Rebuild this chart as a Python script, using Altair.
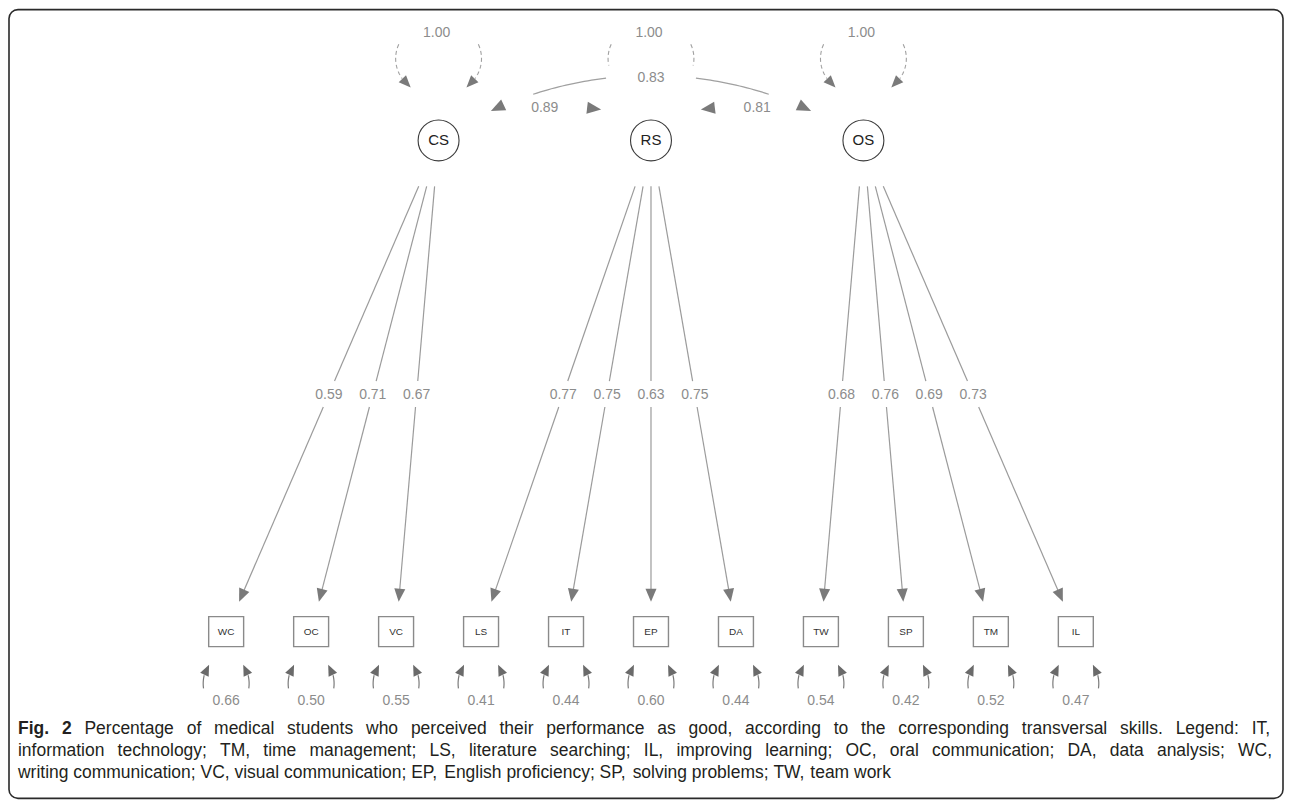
import math
import altair as alt
import pandas as pd

# ---------------- data ----------------
latent_names = ["CS", "RS", "OS"]
latent_variances = [1.00, 1.00, 1.00]
indicator_names = ["WC", "OC", "VC", "LS", "IT", "EP", "DA", "TW", "SP", "TM", "IL"]
indicator_factors = ["CS", "CS", "CS", "RS", "RS", "RS", "RS", "OS", "OS", "OS", "OS"]
loadings = [0.59, 0.71, 0.67, 0.77, 0.75, 0.63, 0.75, 0.68, 0.76, 0.69, 0.73]
residual_variances = [0.66, 0.50, 0.55, 0.41, 0.44, 0.60, 0.44, 0.54, 0.42, 0.52, 0.47]
cov_from = ["CS", "RS", "CS"]
cov_to = ["RS", "OS", "OS"]
cov_values = [0.89, 0.81, 0.83]
caption_bold = "Fig. 2"
caption_lines = [
    "Percentage of medical students who perceived their performance as good, according to the corresponding transversal skills. Legend: IT,",
    "information technology; TM, time management; LS, literature searching; IL, improving learning; OC, oral communication; DA, data analysis; WC,",
    "writing communication; VC, visual communication; EP, English proficiency; SP, solving problems; TW, team work",
]

# ---------------- layout ----------------
W, H = 1276, 790
X0, Y0 = 9, 9
STEP = 85.1
BOX_LEFT = 226.5
LAT_Y = 140
BOX_Y = 632
LINE_TOP = 186
TIP_Y = 602
LABEL_GAP = 13
BOX_W, BOX_H = 35, 30
HEAD = 13
RES_HEAD = 11
LINE_C = "#9b9b9b"
HEAD_C = "#7a7a7a"
LAB_C = "#8c8c8c"
FONT = "Liberation Sans"
ARROW_PATH = "M0,-1L0.85,1L-0.85,1Z"

n = len(indicator_names)
box_x = [BOX_LEFT + i * STEP for i in range(n)]
mid_x = (box_x[0] + box_x[-1]) / 2
lat_x = {name: mid_x + (k - 1) * 2.5 * STEP for k, name in enumerate(latent_names)}


def head_rec(tip, ux, uy, length, group):
    return dict(x=tip[0] - ux * length / 2, y=tip[1] - uy * length / 2,
                angle=math.degrees(math.atan2(ux, -uy)) % 360, g=group)


def ellipse_arc(cx, cy, rx, ry, t0, t1, steps=40):
    pts = []
    for k in range(steps + 1):
        t = math.radians(t0 + (t1 - t0) * k / steps)
        pts.append((cx + rx * math.cos(t), cy + ry * math.sin(t)))
    return pts


def split_head(pts, length, group):
    tip = pts[-1]
    j = len(pts) - 1
    while j > 0 and math.dist(pts[j], tip) < length:
        j -= 1
    base = pts[j]
    dx, dy = tip[0] - base[0], tip[1] - base[1]
    d = math.hypot(dx, dy)
    return pts[: j + 1], head_rec(tip, dx / d, dy / d, length, group)


# loadings
load_rules, load_labels, load_heads = [], [], []
mid_y = (LINE_TOP + TIP_Y) / 2
for i, (fac, lam) in enumerate(zip(indicator_factors, loadings)):
    lx, bx = lat_x[fac], box_x[i]

    def at(y, lx=lx, bx=bx):
        return lx + (bx - lx) * (y - LAT_Y) / (BOX_Y - LAT_Y)

    dx, dy = bx - lx, BOX_Y - LAT_Y
    d = math.hypot(dx, dy)
    ux, uy = dx / d, dy / d
    base_y = TIP_Y - HEAD * uy
    for ya, yb in [(LINE_TOP, mid_y - LABEL_GAP), (mid_y + LABEL_GAP, base_y + 1)]:
        load_rules.append(dict(x=at(ya), y=ya, x2=at(yb), y2=yb))
    load_labels.append(dict(x=at(mid_y), y=mid_y + 1, t=f"{lam:.2f}"))
    load_heads.append(head_rec((at(TIP_Y), TIP_Y), ux, uy, HEAD, "load"))

# latent variance loops (dashed)
loop_pts, loop_heads = [], []
for k, name in enumerate(latent_names):
    cx = lat_x[name]
    for side, (t0, t1) in enumerate([(202, 130.5), (-22, 49.5)]):
        pts, hd = split_head(ellipse_arc(cx, 58, 43, 38, t0, t1), 12, "loop")
        for o, (px, py) in enumerate(pts):
            loop_pts.append(dict(x=px, y=py, seg=f"{name}{side}", o=o))
        loop_heads.append(hd)
var_labels = [dict(x=lat_x[nm] - 2, y=32, t=f"{v:.2f}") for nm, v in zip(latent_names, latent_variances)]

# covariances
cov_labels, cov_bg, cov_pts, cov_heads = [], [], [], []
for a, b, v in zip(cov_from, cov_to, cov_values):
    if abs(latent_names.index(a) - latent_names.index(b)) == 1:
        cov_labels.append(dict(x=(lat_x[a] + lat_x[b]) / 2, y=108, t=f"{v:.2f}"))
    else:
        cx = (lat_x[a] + lat_x[b]) / 2
        cov_labels.append(dict(x=cx, y=77, t=f"{v:.2f}"))
        cov_bg.append(dict(x=cx - 45, x2=cx + 45, y=65, y2=88))
        eL, eR = lat_x[a] + 52, lat_x[b] - 52
        ey, apex = 110.6, 75
        c, s = (eR - eL) / 2, ey - apex
        R = (c * c + s * s) / (2 * s)
        cy = apex + R
        for seg, (xa, xb) in enumerate([(534, cx - 45), (cx + 45, 2 * cx - 534)]):
            for o in range(21):
                px = xa + (xb - xa) * o / 20
                cov_pts.append(dict(x=px, y=cy - math.sqrt(R * R - (px - cx) ** 2), seg=seg, o=o))
        for ex, sgn in [(eL, -1), (eR, 1)]:
            vx, vy = ex - cx, ey - cy
            tx, ty = (vy, -vx) if sgn < 0 else (-vy, vx)
            d = math.hypot(tx, ty)
            cov_heads.append(head_rec((ex, ey), tx / d, ty / d, 15, "cov"))
rs = lat_x[latent_names[1]]
for tipx, sx in [(rs - 50, 1), (rs + 50, -1)]:
    d = math.hypot(1, 0.12)
    cov_heads.append(head_rec((tipx, 109), sx / d, 0.12 / d, 14, "cov"))

# latent nodes
lat_df = pd.DataFrame([dict(x=lat_x[nm], y=LAT_Y, t=nm) for nm in latent_names])

# boxes
box_df = pd.DataFrame([dict(x=bx - BOX_W / 2, x2=bx + BOX_W / 2, y=BOX_Y - BOX_H / 2,
                            y2=BOX_Y + BOX_H / 2, cx=bx, cy=BOX_Y, t=nm)
                       for bx, nm in zip(box_x, indicator_names)])

# residual stubs
res_pts, res_heads, res_labels = [], [], []
for i, (bx, rv) in enumerate(zip(box_x, residual_variances)):
    for side, (t0, t1) in enumerate([(170, 222), (10, -42)]):
        pts, hd = split_head(ellipse_arc(bx, 684, 23, 28, t0, t1), RES_HEAD, "res")
        for o, (px, py) in enumerate(pts):
            res_pts.append(dict(x=px, y=py, seg=f"{i}-{side}", o=o))
        res_heads.append(hd)
    res_labels.append(dict(x=bx, y=701, t=f"{rv:.2f}"))

# caption (Arial-compatible metrics, justified lines)
AW = dict(zip("abcdefghijklmnopqrstuvwxyz",
              [556, 556, 500, 556, 556, 278, 556, 556, 222, 222, 500, 222, 833,
               556, 556, 556, 556, 333, 500, 278, 556, 500, 722, 500, 500, 500]))
AW.update(dict(zip("ABCDEFGHIJKLMNOPQRSTUVWXYZ",
                   [667, 667, 722, 722, 667, 611, 778, 722, 278, 500, 667, 556, 833,
                    722, 778, 667, 778, 722, 667, 611, 722, 667, 944, 667, 667, 611])))
AW.update({" ": 278, ",": 278, ".": 278, ";": 278, ":": 278, "2": 556})
AWB = {"F": 611, "i": 278, "g": 611, ".": 278, "2": 556}
CAP_SIZE = 17.5
CAP_LEFT, CAP_RIGHT = 18, 1274
CAP_Y = [730, 752, 774]


def tw(s, bold=False):
    return sum((AWB if bold and ch in AWB else AW).get(ch, 556) for ch in s) * CAP_SIZE / 1000


cap_rows = []
for li, line in enumerate(caption_lines):
    words = [(w, False) for w in line.split()]
    if li == 0:
        words = [(w, True) for w in caption_bold.split()] + words
    widths = [tw(w, b) for w, b in words]
    if li < len(caption_lines) - 1:
        gap = (CAP_RIGHT - CAP_LEFT - sum(widths)) / (len(words) - 1)
    else:
        gap = AW[" "] * CAP_SIZE / 1000
    x = CAP_LEFT
    for (w, b), wd in zip(words, widths):
        cap_rows.append(dict(x=x, y=CAP_Y[li], t=w, b=b))
        x += wd + gap
cap_df = pd.DataFrame(cap_rows)

# ---------------- chart ----------------
xs = alt.Scale(domain=[X0, X0 + W], nice=False, zero=False)
ys = alt.Scale(domain=[Y0, Y0 + H], nice=False, zero=False, reverse=True)


def X(f="x"):
    return alt.X(f"{f}:Q", scale=xs, axis=None)


def Y(f="y"):
    return alt.Y(f"{f}:Q", scale=ys, axis=None)


def heads(rows, size, color):
    return alt.Chart(pd.DataFrame(rows)).mark_point(
        shape=ARROW_PATH, filled=True, size=size, color=color, opacity=1, strokeWidth=0
    ).encode(x=X(), y=Y(), angle=alt.Angle("angle:Q", scale=None))


def texts(rows, size, color, **kw):
    return alt.Chart(pd.DataFrame(rows)).mark_text(
        font=FONT, fontSize=size, color=color, align="center", baseline="middle", **kw
    ).encode(x=X(), y=Y(), text="t:N")


def lines(rows, color, width, **kw):
    return alt.Chart(pd.DataFrame(rows)).mark_line(color=color, strokeWidth=width, **kw).encode(
        x=X(), y=Y(), detail="seg:N", order="o:Q")


layers = [
    lines(loop_pts, "#a0a0a0", 1.1, strokeDash=[4, 3]),
    heads(loop_heads, 144, HEAD_C),
    alt.Chart(pd.DataFrame(cov_bg)).mark_rect(color="white").encode(
        x=X(), x2=alt.X2("x2"), y=Y(), y2=alt.Y2("y2")),
    lines(cov_pts, "#a0a0a0", 1.2),
    heads(cov_heads, 200, HEAD_C),
    texts(cov_labels, 14, LAB_C),
    texts(var_labels, 14, LAB_C),
    alt.Chart(lat_df).mark_point(shape="circle", size=1681, filled=False, color="#3a3a3a",
                                 strokeWidth=1.1, opacity=1).encode(x=X(), y=Y()),
    texts(lat_df.to_dict("records"), 15, "#222222"),
    alt.Chart(pd.DataFrame(load_rules)).mark_rule(color=LINE_C, strokeWidth=1.2).encode(
        x=X(), y=Y(), x2=alt.X2("x2"), y2=alt.Y2("y2")),
    heads(load_heads, HEAD * HEAD, HEAD_C),
    texts(load_labels, 14, LAB_C),
    alt.Chart(box_df).mark_rect(fill="white", stroke="#8a8a8a", strokeWidth=1.4).encode(
        x=X(), x2=alt.X2("x2"), y=Y(), y2=alt.Y2("y2")),
    alt.Chart(box_df).mark_text(font=FONT, fontSize=10, color="#333333", align="center",
                                baseline="middle").encode(x=X("cx"), y=Y("cy"), text="t:N"),
    lines(res_pts, "#7a7a7a", 1.2),
    heads(res_heads, RES_HEAD * RES_HEAD, "#6a6a6a"),
    texts(res_labels, 14, LAB_C),
    alt.Chart(cap_df[~cap_df.b]).mark_text(font=FONT, fontSize=CAP_SIZE, color="#231f20",
                                           align="left", baseline="middle").encode(
        x=X(), y=Y(), text="t:N"),
    alt.Chart(cap_df[cap_df.b]).mark_text(font=FONT, fontSize=CAP_SIZE, fontWeight="bold",
                                          color="#231f20", align="left", baseline="middle").encode(
        x=X(), y=Y(), text="t:N"),
]

chart = alt.layer(*layers).properties(
    width=W, height=H, padding=1, autosize=alt.AutoSizeParams(type="none"),
    background="white",
).configure_view(stroke="#2a2a2a", strokeWidth=1.6, cornerRadius=9)

chart.save("out.html", embed_options={"renderer": "svg", "actions": False})
